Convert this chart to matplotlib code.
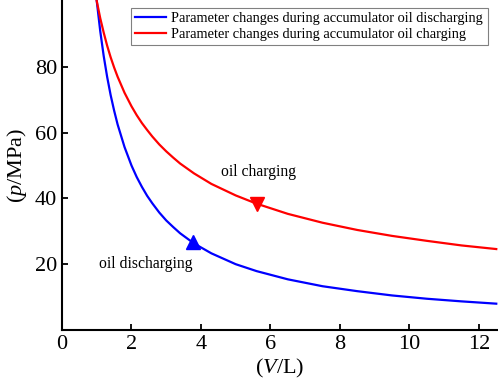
import matplotlib
matplotlib.use('Agg')
import matplotlib.pyplot as plt

plt.rcParams['font.family'] = 'Liberation Serif'
plt.rcParams['mathtext.fontset'] = 'custom'
plt.rcParams['mathtext.rm'] = 'Liberation Serif'
plt.rcParams['mathtext.it'] = 'Liberation Serif:italic'

# Volume (L) and pressure (MPa)
volume = [1.0, 1.1, 1.2, 1.3, 1.4, 1.5, 1.6, 1.8, 2.0, 2.15, 2.3, 2.45, 2.6, 2.8, 3.0,
          3.2, 3.4, 3.8, 4.3, 5.0, 5.6, 6.5, 7.5, 8.5, 9.5, 10.5, 11.5, 12.5]
p_discharge = [100, 90.9, 83.3, 76.9, 71.4, 66.7, 62.5, 55.6, 50.0, 46.5, 43.5, 40.8,
               38.5, 35.7, 33.3, 31.3, 29.4, 26.3, 23.3, 20.0, 17.9, 15.4, 13.3, 11.8,
               10.5, 9.5, 8.7, 8.0]
p_charge = [100, 94.8, 90.4, 86.4, 82.9, 79.8, 77.0, 72.1, 68.0, 65.3, 62.9, 60.8,
            58.8, 56.4, 54.3, 52.4, 50.6, 47.6, 44.4, 40.9, 38.4, 35.3, 32.6, 30.4,
            28.6, 27.1, 25.7, 24.6]

labels = ['Parameter changes during accumulator oil discharging',
          'Parameter changes during accumulator oil charging']

# direction markers on the curves
arrow_dis = (3.78, 26.6)
arrow_ch = (5.6, 38.3)

fig = plt.figure(figsize=(4.98, 3.88), dpi=100)
ax = fig.add_axes([0.1245, 0.1495, 0.8755, 0.8505])

ax.plot(volume, p_discharge, color='#0000ff', lw=1.6, label=labels[0])
ax.plot(volume, p_charge, color='#ff0000', lw=1.6, label=labels[1])
ax.plot(*arrow_dis, marker='^', color='#0000ff', ms=10)
ax.plot(*arrow_ch, marker='v', color='#ff0000', ms=10)

ax.text(5.65, 47.9, 'oil charging', fontsize=11.3, ha='center', va='center')
ax.text(2.4, 20.0, 'oil discharging', fontsize=11.3, ha='center', va='center')

ax.set_xlim(0, 12.55)
ax.set_ylim(0, 100.3)
ax.set_xticks([0, 2, 4, 6, 8, 10, 12])
ax.set_yticks([20, 40, 60, 80])
ax.tick_params(direction='in', length=4, width=1.3, labelsize=16)
for s in ['top', 'right']:
    ax.spines[s].set_visible(False)
for s in ['left', 'bottom']:
    ax.spines[s].set_linewidth(1.5)

ax.set_xlabel('($\\mathit{V}$/L)', fontsize=16, labelpad=2)
ax.set_ylabel('($\\mathit{p}$/MPa)', fontsize=16, labelpad=4)

leg = ax.legend(loc='upper right', bbox_to_anchor=(0.976, 0.976), fontsize=10.4,
                fancybox=False, edgecolor='#808080', framealpha=1,
                handlelength=2.1, borderpad=0.3, labelspacing=0.15,
                handletextpad=0.4, borderaxespad=0)
leg.get_frame().set_linewidth(0.8)

fig.savefig('out.png', dpi=100)
